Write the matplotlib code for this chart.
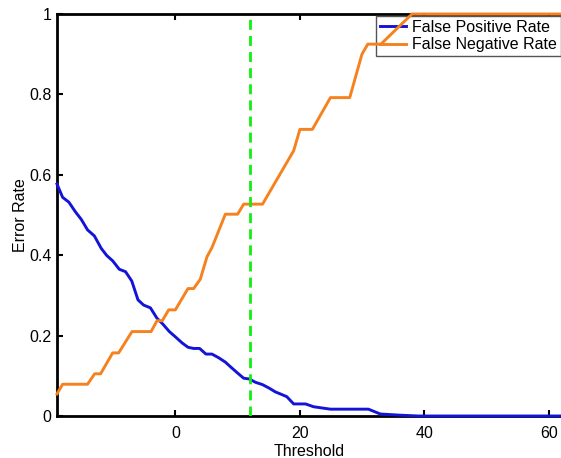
import matplotlib
matplotlib.use('Agg')
from matplotlib import pyplot as plt

plt.rcParams['font.family'] = ['Liberation Sans', 'DejaVu Sans']

# False positive rate curve
fpr_x = [-19.0, -18.1, -17.1, -16.05, -15.1, -14.1, -13.0, -11.9, -11.0, -10.06,
         -9.0, -8.0, -7.0, -6.0, -5.1, -4.0, -2.94, -2.03, -0.96, 0.0,
         1.07, 2.03, 2.94, 3.9, 4.92, 5.88, 6.95, 8.03, 9.1, 10.06,
         10.97, 11.9, 12.84, 14.0, 15.1, 16.05, 17.0, 17.9, 19.0, 20.9,
         22.2, 24.9, 31.0, 32.9, 36.1, 39.0, 62.0]
fpr_y = [0.577, 0.544, 0.532, 0.508, 0.489, 0.463, 0.448, 0.417, 0.399, 0.386,
         0.365, 0.359, 0.336, 0.289, 0.276, 0.269, 0.243, 0.229, 0.21, 0.197,
         0.182, 0.171, 0.168, 0.168, 0.154, 0.154, 0.145, 0.134, 0.119, 0.106,
         0.094, 0.092, 0.084, 0.078, 0.069, 0.06, 0.054, 0.048, 0.03, 0.03,
         0.023, 0.017, 0.017, 0.005, 0.002, 0.0, 0.0]

# False negative rate curve
fnr_x = [-19.0, -18.1, -14.1, -12.95, -12.0, -10.06, -9.1, -6.96, -3.9, -2.94,
         -2.1, -1.07, 0.0, 2.03, 2.94, 4.0, 5.08, 5.88, 8.03, 10.0,
         10.97, 14.0, 19.0, 20.0, 22.0, 24.9, 28.0, 29.96, 30.9, 33.0,
         38.0, 62.0]
fnr_y = [0.055, 0.079, 0.079, 0.105, 0.105, 0.157, 0.157, 0.21, 0.21, 0.237,
         0.237, 0.264, 0.264, 0.317, 0.317, 0.34, 0.396, 0.419, 0.502, 0.502,
         0.527, 0.527, 0.66, 0.713, 0.713, 0.792, 0.792, 0.9, 0.925, 0.925,
         1.0, 1.0]

chosen_threshold = 12
x_ticks = [0, 20, 40, 60]
y_ticks = [0, 0.2, 0.4, 0.6, 0.8, 1]
y_tick_labels = ['0', '0.2', '0.4', '0.6', '0.8', '1']


def plot_rates():
    fig = plt.figure(figsize=(5.61, 4.58), dpi=100)
    ax = fig.add_axes([57 / 561, 42 / 458, 1 - 57 / 561 + 0.002, 402 / 458])
    ax.plot(fpr_x, fpr_y, color='#1414d8', linewidth=2.1, label='False Positive Rate',
            zorder=6, clip_on=False)
    ax.plot(fnr_x, fnr_y, color='#f5821f', linewidth=2.1, label='False Negative Rate',
            zorder=6, clip_on=False)
    ax.axvline(chosen_threshold, color='#11ee11', linewidth=2,
               linestyle=(0, (3.6, 2.2)), zorder=6)
    ax.set_xlim(-19, 62.1)
    ax.set_ylim(0, 1)
    ax.set_xticks(x_ticks)
    ax.set_yticks(y_ticks)
    ax.set_yticklabels(y_tick_labels)
    ax.tick_params(direction='in', top=True, right=False, length=4, width=1.5,
                   labelsize=11.5)
    ax.tick_params(axis='x', pad=7)
    ax.tick_params(axis='y', pad=4)
    for side in ['left', 'bottom', 'top']:
        ax.spines[side].set_linewidth(2)
    ax.spines['right'].set_visible(False)
    ax.set_xlabel('Threshold', fontsize=11.5, labelpad=2)
    ax.set_ylabel('Error Rate', fontsize=11.5, labelpad=1)
    leg = ax.legend(loc='upper right', bbox_to_anchor=(1.0, 1 - 16 / 458),
                    bbox_transform=fig.transFigure, fontsize=11.5,
                    handlelength=1.6, handletextpad=0.4, borderpad=0.25,
                    labelspacing=0.15, borderaxespad=0, fancybox=False,
                    framealpha=1)
    leg.set_zorder(4)
    leg.get_frame().set_edgecolor('#555555')
    leg.get_frame().set_linewidth(1)
    fig.savefig('out.png', dpi=100)


def main():
    plot_rates()


if __name__ == "__main__":
    main()
